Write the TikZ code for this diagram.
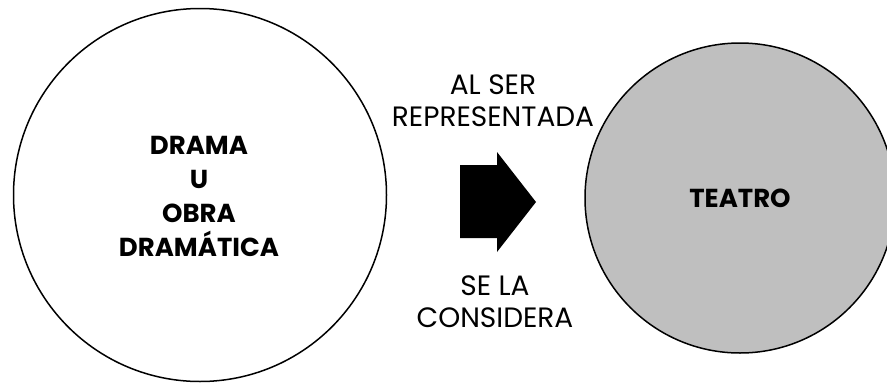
\documentclass[tikz,border=0pt]{standalone}
\usepackage{fontspec}
\setmainfont{Poppins}
\usetikzlibrary{positioning}
\tikzset{
  bubble/.style={circle, draw, line width=1.5pt, inner sep=0pt},
  bigtxt/.style={font=\bfseries\fontsize{26}{34}\selectfont, align=center},
  smalltxt/.style={font=\fontsize{28}{32}\selectfont, align=center},
}
\begin{document}
\begin{tikzpicture}[x=1pt, y=-1pt, line join=round]
  \useasboundingbox (0,0) rectangle (887,383);
  % the two circles
  \node[bubble, minimum size=373pt] (drama) at (200,195) {};
  \node[bubble, fill=gray!50, minimum size=310pt] (teatro) at (740,198) {};
  \node[bigtxt] (dramatxt) at (199,196) {DRAMA\\U\\OBRA\\DRAMÁTICA};
  \node[bigtxt] (teatrotxt) at (teatro.center) {TEATRO};
  % block arrow
  \fill (460,165) -- (497,165) -- (497,152) -- (536,202) -- (497,252) -- (497,238) -- (460,238) -- cycle;
  \node[smalltxt] (arriba) at (493,101) {AL SER\\REPRESENTADA};
  \node[smalltxt] (abajo) at (495,302) {SE LA\\CONSIDERA};
\end{tikzpicture}
\end{document}
